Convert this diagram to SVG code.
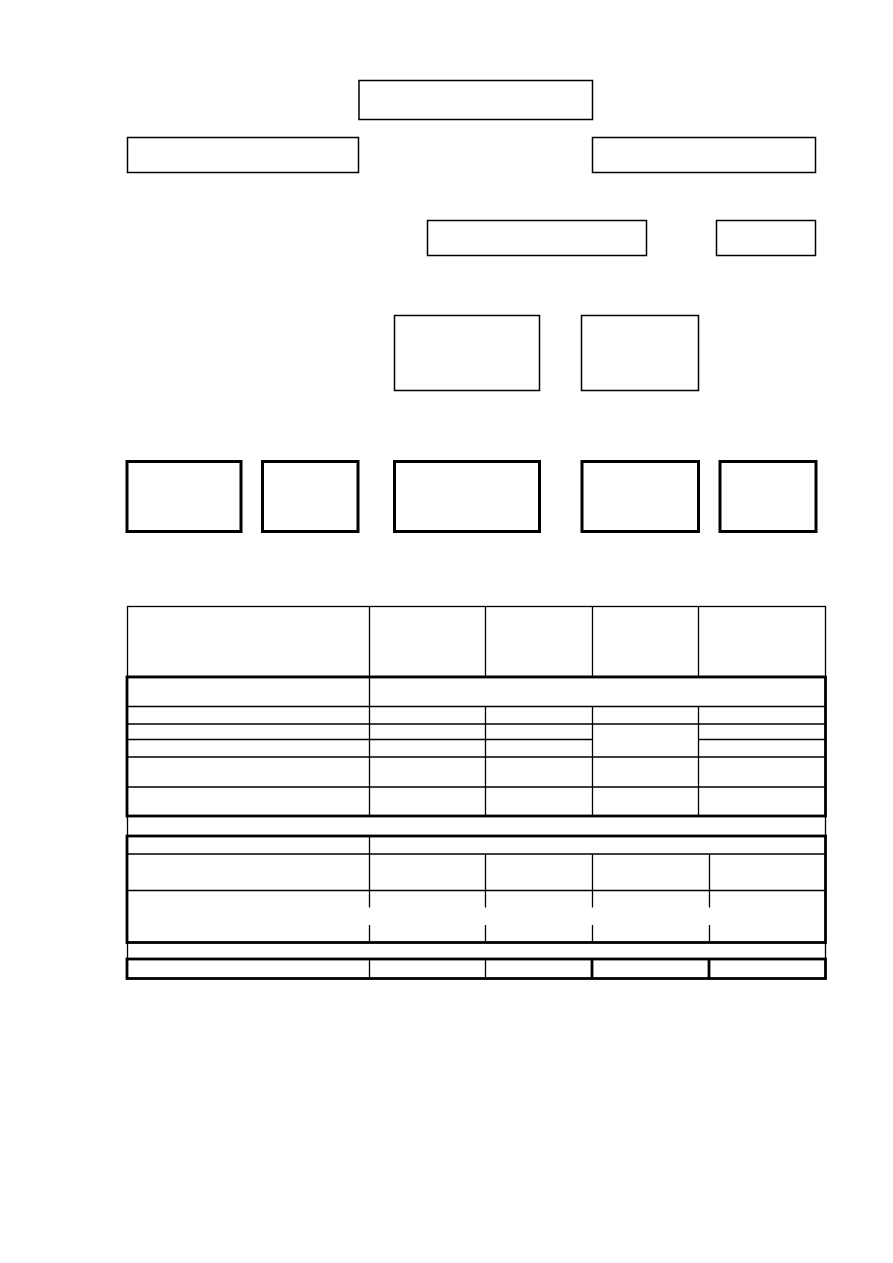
<svg xmlns="http://www.w3.org/2000/svg" width="893" height="1263" viewBox="0 0 893 1263">
<style>
.bx{fill:#fff;stroke:#000;stroke-width:1.5}
.bk{fill:#fff;stroke:#000;stroke-width:3}
.tn{fill:none;stroke:#000;stroke-width:1.3}
.tk{fill:none;stroke:#000;stroke-width:2.8}
</style>
<rect width="893" height="1263" fill="#fff"/>
<g id="connectors"></g>
<g id="n-top"><rect class="bx" x="359" y="80.5" width="233.5" height="39"/></g>
<g id="n-left"><rect class="bx" x="127.5" y="137.5" width="231" height="35"/></g>
<g id="n-right"><rect class="bx" x="592.5" y="137.5" width="223" height="35"/></g>
<g id="n-mid"><rect class="bx" x="427.5" y="220.5" width="219" height="35"/></g>
<g id="n-small"><rect class="bx" x="716.5" y="220.5" width="99" height="35"/></g>
<g id="n-r3a"><rect class="bx" x="394.5" y="315.5" width="145" height="75"/></g>
<g id="n-r3b"><rect class="bx" x="581.5" y="315.5" width="117" height="75"/></g>
<g id="n-r4a"><rect class="bk" x="127" y="461.5" width="114" height="70"/></g>
<g id="n-r4b"><rect class="bk" x="262.5" y="461.5" width="95.5" height="70"/></g>
<g id="n-r4c"><rect class="bk" x="394.5" y="461.5" width="145" height="70"/></g>
<g id="n-r4d"><rect class="bk" x="582" y="461.5" width="116.5" height="70"/></g>
<g id="n-r4e"><rect class="bk" x="720" y="461.5" width="96" height="70"/></g>
<g id="table">
<rect class="tn" x="127.5" y="606.5" width="698" height="70"/>
<path class="tn" d="M369.5 606.5V677M485.5 606.5V677M592.5 606.5V677M698.5 606.5V677"/>
<path class="tn" d="M127 706.5H826M127 724H826M127 739.5H593M698.5 739.5H826M127 757H826M127 787H826"/>
<path class="tn" d="M369.5 677V816M485.5 706.5V816M592.5 706.5V816M698.5 706.5V816"/>
<rect class="tk" x="127" y="677" width="698.5" height="139"/>
<path class="tn" d="M127.5 816V836M825.5 816V836"/>
<path class="tn" d="M127 854H826M127 890.5H826"/>
<path class="tn" d="M369.5 836V854"/>
<path class="tn" d="M369.5 854V907.5M485.5 854V907.5M592.5 854V907.5M709.5 854V907.5M369.5 925V942M485.5 925V942M592.5 925V942M709.5 925V942"/>
<rect class="tk" x="127" y="836" width="698.5" height="106.5"/>
<path class="tn" d="M127.5 942.5V959M825.5 942.5V959"/>
<path class="tn" d="M369.5 959V979M485.5 959V979"/>
<path class="tk" d="M592 959V979M709 959V979"/>
<rect class="tk" x="127" y="959" width="698.5" height="19.5"/>
</g>
</svg>
